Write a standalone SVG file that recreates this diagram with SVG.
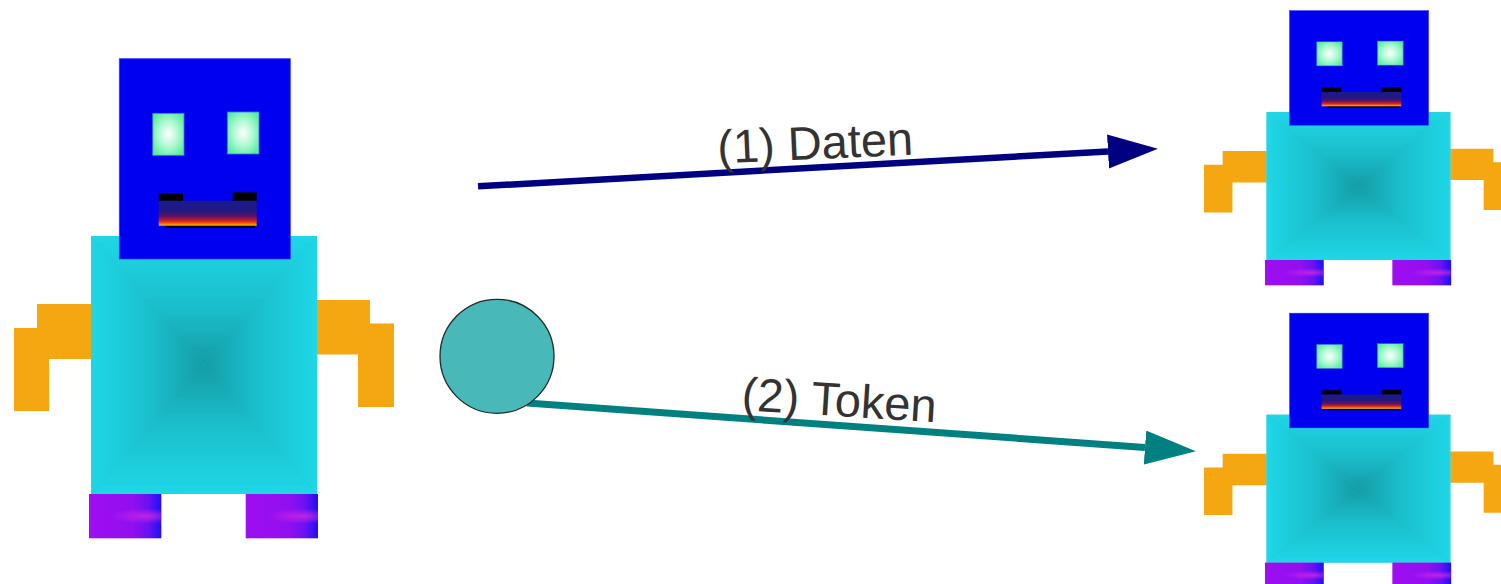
<svg xmlns="http://www.w3.org/2000/svg" xmlns:xlink="http://www.w3.org/1999/xlink" width="1501" height="584" viewBox="0 0 1501 584">
  <style>
    .arm { fill: #f5a711; }
    .head { fill: #0000f0; stroke: #3a3aff; stroke-width: 0.8; }
    .eye { fill: url(#eyeGlow); stroke: #3c74e8; stroke-width: 0.8; }
    .tab { fill: #000000; }
    .mouth { fill: url(#mouthFire); }
    .label { font-family: "Liberation Sans", Arial, sans-serif; font-size: 47px; fill: #333333; }
    .link-data { stroke: #000080; stroke-width: 6.5; fill: none; }
    .link-token { stroke: #008080; stroke-width: 7; fill: none; }
  </style>
  <defs>
    <!-- eye glow -->
    <radialGradient id="eyeGlow" cx="0.5" cy="0.5" r="0.6">
      <stop offset="0" stop-color="#ffffff"/>
      <stop offset="0.55" stop-color="#a8f8cf"/>
      <stop offset="1" stop-color="#58ee9c"/>
    </radialGradient>
    <!-- mouth: navy to fire -->
    <linearGradient id="mouthFire" x1="0" y1="0" x2="0" y2="1">
      <stop offset="0" stop-color="#1a1a8c"/>
      <stop offset="0.4" stop-color="#221882"/>
      <stop offset="0.62" stop-color="#5a1268"/>
      <stop offset="0.78" stop-color="#c41828"/>
      <stop offset="0.88" stop-color="#f04a10"/>
      <stop offset="1" stop-color="#f8c400"/>
    </linearGradient>
    <!-- foot: purple turning blue towards the right edge -->
    <linearGradient id="footBase" x1="0" y1="0" x2="1" y2="0">
      <stop offset="0" stop-color="#9e0ef0"/>
      <stop offset="0.6" stop-color="#920ff0"/>
      <stop offset="0.82" stop-color="#6a12f2"/>
      <stop offset="1" stop-color="#1c10f8"/>
    </linearGradient>
    <radialGradient id="footStreak" cx="0.8" cy="0.5" r="0.5" gradientTransform="translate(0.8 0.5) scale(1 0.35) translate(-0.8 -0.5)">
      <stop offset="0" stop-color="#d82ae0" stop-opacity="0.75"/>
      <stop offset="1" stop-color="#d82ae0" stop-opacity="0"/>
    </radialGradient>
    <!-- body: rectangular (pyramid) shading built from four triangles -->
    <linearGradient id="bodyTop" gradientUnits="userSpaceOnUse" x1="0" y1="236" x2="0" y2="365">
      <stop offset="0" stop-color="#1fd7e7"/>
      <stop offset="0.55" stop-color="#1bbecb"/>
      <stop offset="1" stop-color="#149ca6"/>
    </linearGradient>
    <linearGradient id="bodyBottom" gradientUnits="userSpaceOnUse" x1="0" y1="494" x2="0" y2="365">
      <stop offset="0" stop-color="#1fd7e7"/>
      <stop offset="0.55" stop-color="#1bbecb"/>
      <stop offset="1" stop-color="#149ca6"/>
    </linearGradient>
    <linearGradient id="bodyLeft" gradientUnits="userSpaceOnUse" x1="91" y1="0" x2="204" y2="0">
      <stop offset="0" stop-color="#1fd7e7"/>
      <stop offset="0.55" stop-color="#1bbecb"/>
      <stop offset="1" stop-color="#149ca6"/>
    </linearGradient>
    <linearGradient id="bodyRight" gradientUnits="userSpaceOnUse" x1="317" y1="0" x2="204" y2="0">
      <stop offset="0" stop-color="#1fd7e7"/>
      <stop offset="0.55" stop-color="#1bbecb"/>
      <stop offset="1" stop-color="#149ca6"/>
    </linearGradient>

    <marker id="headData" markerUnits="userSpaceOnUse" markerWidth="52" markerHeight="36" refX="0" refY="17" orient="auto">
      <path d="M0,0 L50,17 L0,34 Z" fill="#000080"/>
    </marker>
    <marker id="headToken" markerUnits="userSpaceOnUse" markerWidth="52" markerHeight="36" refX="0" refY="17" orient="auto">
      <path d="M0,0 L51,17 L0,34 Z" fill="#008080"/>
    </marker>

    <!-- one foot -->
    <g id="foot">
      <rect x="0" y="0" width="72.3" height="44.3" fill="url(#footBase)"/>
      <rect x="0" y="0" width="72.3" height="44.3" fill="url(#footStreak)"/>
    </g>

    <!-- the robot figure, drawn in its full-size coordinates -->
    <g id="robot">
      <polygon class="arm" points="37,304 91,304 91,359 49,359 49,411 14,411 14,328 37,328"/>
      <polygon class="arm" points="317,300 370,300 370,323.5 394,323.5 394,407 358,407 358,354.5 317,354.5"/>
      <rect x="91" y="236" width="226" height="258" fill="#1bbecb"/>
      <polygon points="91,236 317,236 204,365" fill="url(#bodyTop)"/>
      <polygon points="91,494 317,494 204,365" fill="url(#bodyBottom)"/>
      <polygon points="91,236 91,494 204,365" fill="url(#bodyLeft)"/>
      <polygon points="317,236 317,494 204,365" fill="url(#bodyRight)"/>
      <use xlink:href="#foot" x="89" y="494"/>
      <use xlink:href="#foot" x="245.7" y="494"/>
      <rect class="head" x="119.3" y="58.7" width="171" height="200.3"/>
      <rect class="eye" x="152.7" y="113.3" width="31.3" height="42"/>
      <rect class="eye" x="227.3" y="112" width="31.7" height="42"/>
      <rect class="tab" x="158.7" y="193.3" width="24.3" height="8"/>
      <rect class="tab" x="232.7" y="192.3" width="24" height="9"/>
      <rect class="tab" x="166" y="225" width="89" height="3"/>
      <rect class="mouth" x="158.7" y="200.7" width="98" height="25"/>
    </g>
  </defs>

  <!-- connectors -->
  <g id="connectors">
    <line class="link-data" x1="478" y1="186.3" x2="1108" y2="151.5" marker-end="url(#headData)"/>
    <line class="link-token" x1="527" y1="403" x2="1145" y2="447.5" marker-end="url(#headToken)"/>
  </g>

  <g id="sender">
    <use xlink:href="#robot"/>
  </g>

  <g id="token">
    <circle cx="497" cy="356.3" r="57" fill="#48b8b8" stroke="#1e2a2a" stroke-width="1.3"/>
  </g>

  <g id="receiver-data">
    <use xlink:href="#robot" transform="translate(1192.6,-23.1) scale(0.813,0.573)"/>
  </g>

  <g id="receiver-token">
    <use xlink:href="#robot" transform="translate(1192.6,279.5) scale(0.813,0.573)"/>
  </g>

  <g id="labels">
    <text class="label" x="718" y="163.5" transform="rotate(-2.6 718 163.5)">(1) Daten</text>
    <text class="label" x="741" y="410" transform="rotate(3.6 741 410)">(2) Token</text>
  </g>
</svg>
